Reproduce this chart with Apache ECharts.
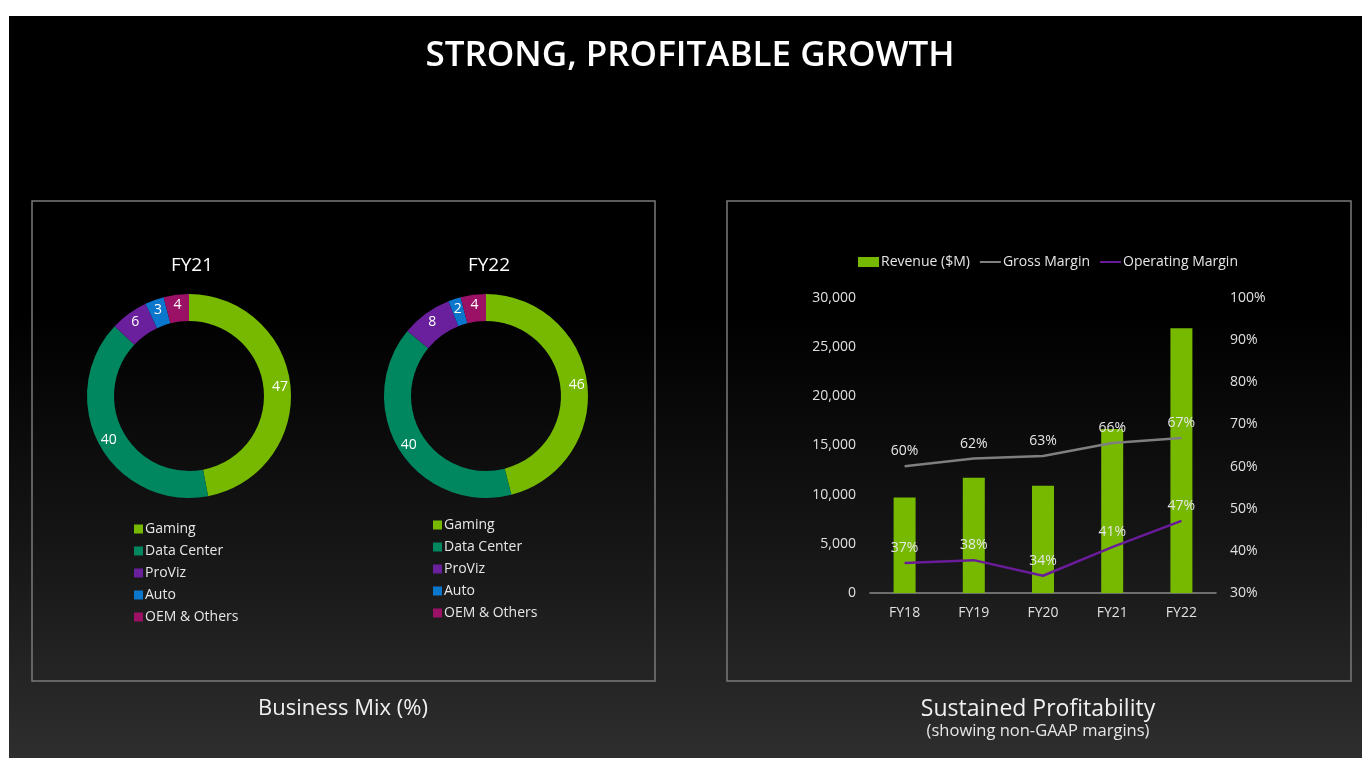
<!DOCTYPE html>
<html><head><meta charset="utf-8">
<script src="https://cdn.jsdelivr.net/npm/echarts@6/dist/echarts.min.js"></script>
<style>html,body{margin:0;padding:0;background:#fff;}#c{width:1362px;height:758px;}</style>
</head><body><div id="c"></div>
<script>
const segments = ['Gaming', 'Data Center', 'ProViz', 'Auto', 'OEM & Others'];
const segmentColors = ['#76b900', '#00875f', '#6a1f9c', '#0a76cc', '#9b1166'];
const mixFY21 = [47, 40, 6, 3, 4];
const mixFY22 = [46, 40, 8, 2, 4];
const years = ['FY18', 'FY19', 'FY20', 'FY21', 'FY22'];
const revenue = [9714, 11716, 10918, 16675, 26914];
const grossMargin = [60.1, 61.9, 62.5, 65.6, 66.8];
const operatingMargin = [37.1, 37.8, 34.1, 40.9, 47.1];
const revenueTicks = [0, 5000, 10000, 15000, 20000, 25000, 30000];

const FONT = 'Open Sans';
const chart = echarts.init(document.getElementById('c'));

function pieData(vals) {
  return segments.map((n, i) => ({ name: n, value: vals[i], itemStyle: { color: segmentColors[i] } }));
}
function pieSeries(vals, cx) {
  return {
    type: 'pie', center: [cx, 396], radius: [75, 102], startAngle: 90, clockwise: true,
    avoidLabelOverlap: false, silent: true,
    label: { show: true, position: 'inside', color: '#fff', fontFamily: FONT, fontSize: 14, formatter: '{c}' },
    labelLine: { show: false },
    itemStyle: { borderWidth: 0 },
    data: pieData(vals)
  };
}
function pieLegend(left, top) {
  return {
    orient: 'vertical', left: left, top: top, icon: 'rect', itemWidth: 9, itemHeight: 9, itemGap: 8,
    selectedMode: false,
    textStyle: { color: '#e6e6e6', fontFamily: FONT, fontSize: 14, padding: [0, 0, 0, -3] },
    data: segments
  };
}
function marginLabel() {
  return { show: true, position: 'top', distance: 8, color: '#e6e6e6', fontFamily: FONT, fontSize: 14,
           formatter: p => Math.round(p.value) + '%' };
}

chart.setOption({
  backgroundColor: '#fff',
  animation: false,
  graphic: [
    { type: 'rect', z: -10, shape: { x: 9, y: 16, width: 1353, height: 742 },
      style: { fill: new echarts.graphic.LinearGradient(0, 0, 0, 1, [
        { offset: 0, color: '#000' }, { offset: 0.4, color: '#000' },
        { offset: 0.72, color: '#161616' }, { offset: 1, color: '#2e2e2e' }]) } },
    { type: 'rect', z: -5, shape: { x: 32, y: 201, width: 623, height: 480 }, style: { fill: 'none', stroke: '#7a7a7a', lineWidth: 1.5 } },
    { type: 'rect', z: -5, shape: { x: 727, y: 201, width: 624, height: 480 }, style: { fill: 'none', stroke: '#7a7a7a', lineWidth: 1.5 } },
    { type: 'text', x: 690, y: 56, style: { text: 'STRONG, PROFITABLE GROWTH', fill: '#fff', font: '600 35px "' + FONT + '"', textAlign: 'center', textVerticalAlign: 'middle' } },
    { type: 'text', x: 192, y: 266, style: { text: 'FY21', fill: '#fff', font: '19px "' + FONT + '"', textAlign: 'center', textVerticalAlign: 'middle' } },
    { type: 'text', x: 489, y: 266, style: { text: 'FY22', fill: '#fff', font: '19px "' + FONT + '"', textAlign: 'center', textVerticalAlign: 'middle' } },
    { type: 'text', x: 343, y: 709, style: { text: 'Business Mix (%)', fill: '#f0f0f0', font: '22px "' + FONT + '"', textAlign: 'center', textVerticalAlign: 'middle' } },
    { type: 'text', x: 1038, y: 709, style: { text: 'Sustained Profitability', fill: '#f0f0f0', font: '23px "' + FONT + '"', textAlign: 'center', textVerticalAlign: 'middle' } },
    { type: 'text', x: 1038, y: 731, style: { text: '(showing non-GAAP margins)', fill: '#e6e6e6', font: '16.5px "' + FONT + '"', textAlign: 'center', textVerticalAlign: 'middle' } }
  ],
  legend: [
    pieLegend(129, 517),
    pieLegend(428, 513),
    { left: 853, top: 250, itemWidth: 21, itemHeight: 10, itemGap: 9, selectedMode: false,
      textStyle: { color: '#e6e6e6', fontFamily: FONT, fontSize: 14, padding: [0, 0, 0, -3] },
      data: [ { name: 'Revenue ($M)', icon: 'rect' },
              { name: 'Gross Margin', itemStyle: { opacity: 0 } },
              { name: 'Operating Margin', itemStyle: { opacity: 0 } } ] }
  ],
  grid: { left: 870, right: 146, top: 298, bottom: 165, containLabel: false },
  xAxis: {
    type: 'category', data: years,
    axisLine: { lineStyle: { color: '#8a8a8a', width: 1.5 } }, axisTick: { show: false },
    axisLabel: { color: '#e0e0e0', fontFamily: FONT, fontSize: 14, margin: 13 }
  },
  yAxis: [
    { type: 'value', min: 0, max: 30000, interval: 5000, splitLine: { show: false }, axisLine: { show: false }, axisTick: { show: false },
      axisLabel: { color: '#e0e0e0', fontFamily: FONT, fontSize: 14, margin: 14, formatter: v => v.toLocaleString('en-US') } },
    { type: 'value', min: 30, max: 100, interval: 10, splitLine: { show: false }, axisLine: { show: false }, axisTick: { show: false },
      axisLabel: { color: '#e0e0e0', fontFamily: FONT, fontSize: 14, margin: 14, formatter: '{value}%' } }
  ],
  series: [
    pieSeries(mixFY21, 189),
    pieSeries(mixFY22, 486),
    { name: 'Revenue ($M)', type: 'bar', data: revenue, barWidth: 22, itemStyle: { color: '#76b900' } },
    { name: 'Gross Margin', type: 'line', yAxisIndex: 1, data: grossMargin, symbol: 'circle', symbolSize: 0, showSymbol: true,
      lineStyle: { color: '#7f7f7f', width: 2.5 }, itemStyle: { color: '#7f7f7f' }, z: 3,
      label: marginLabel() },
    { name: 'Operating Margin', type: 'line', yAxisIndex: 1, data: operatingMargin, symbol: 'circle', symbolSize: 0, showSymbol: true,
      lineStyle: { color: '#6a1b9a', width: 2.5 }, itemStyle: { color: '#6a1b9a' }, z: 3,
      label: marginLabel() }
  ]
});
</script></body></html>
